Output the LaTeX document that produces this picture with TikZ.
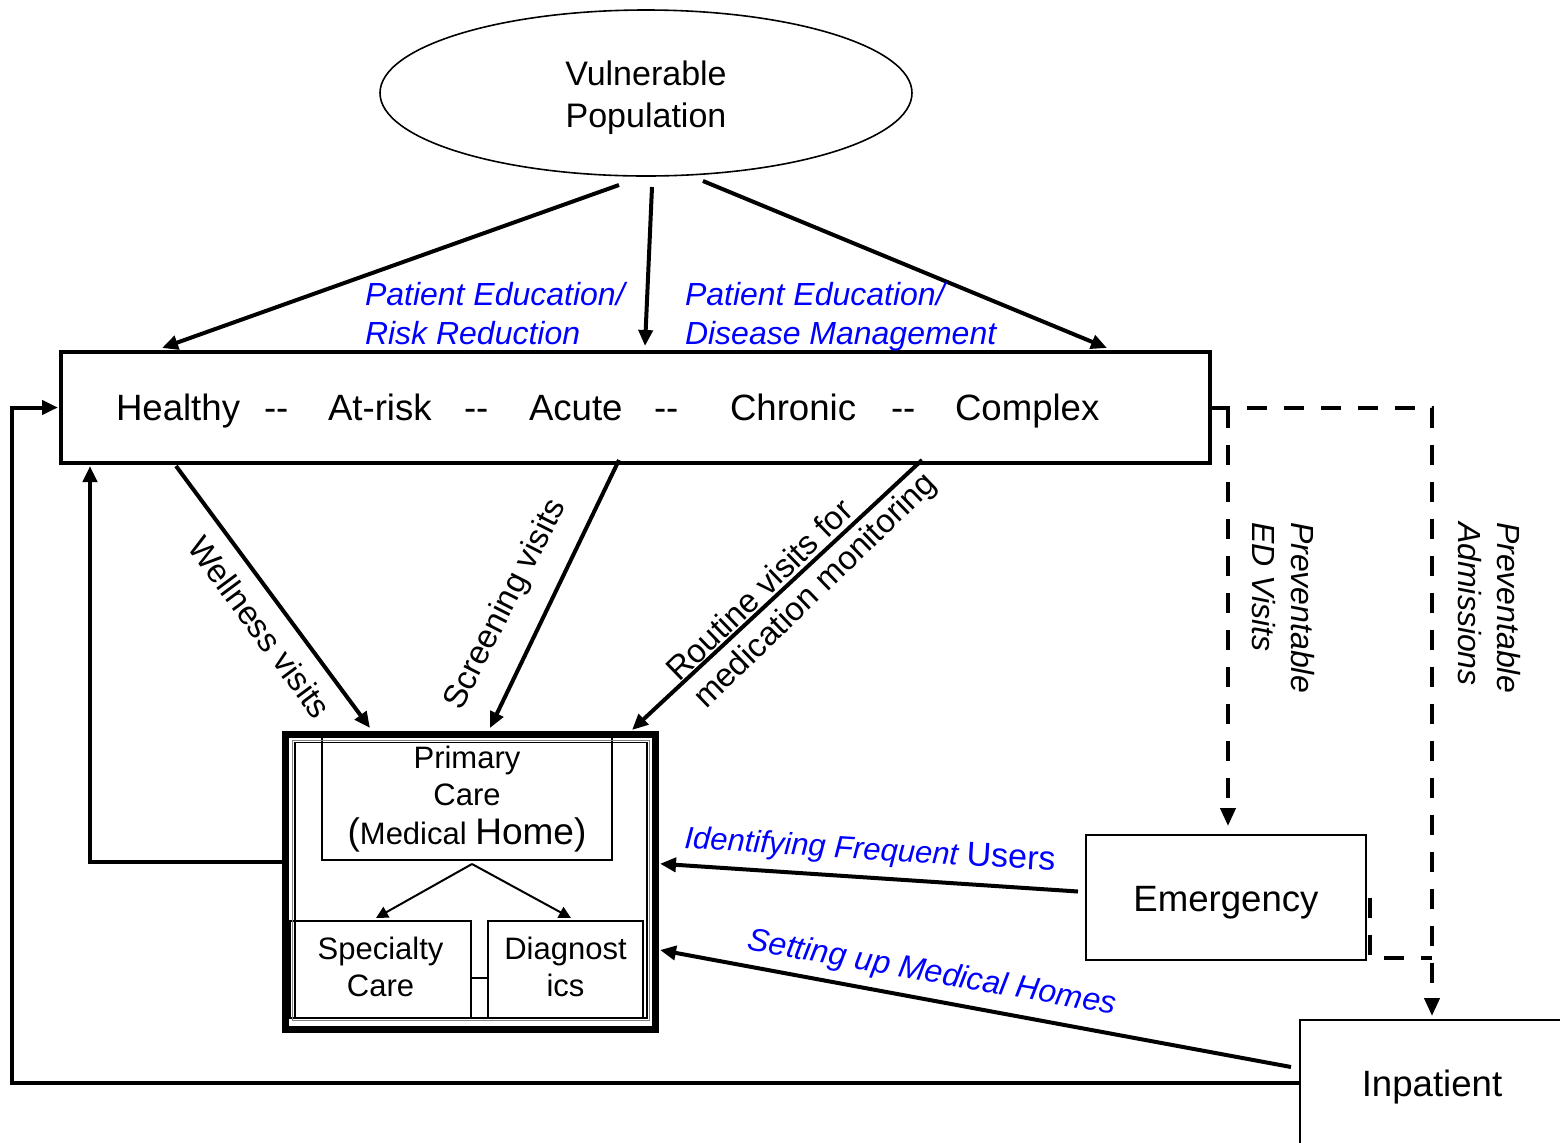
\documentclass[tikz,border=0pt]{standalone}
\usepackage{fontspec}
\setmainfont{Liberation Sans}
\usetikzlibrary{arrows.meta,calc,shapes.geometric}

\definecolor{noteblue}{RGB}{0,0,255}
\newcommand\fsz[2]{\fontsize{#1}{#2}\selectfont}

\begin{document}
\begin{tikzpicture}[x=0.5pt,y=-0.5pt,
  every node/.style={inner sep=0pt, outer sep=0pt},
  box/.style={draw, line width=0.8pt},
  flow/.style={line width=2pt, -{Triangle[length=8pt,width=7pt]}},
  thinflow/.style={line width=1pt, -{Triangle[length=6pt,width=6pt]}},
  dashline/.style={line width=2pt, dash pattern=on 10pt off 8.5pt},
  dashflow/.style={dashline, -{Triangle[length=9pt,width=7.5pt]}},
  stage/.style={font=\fsz{18.3}{22}, anchor=base west},
  note/.style={font=\fsz{16}{19.5}\itshape, text=noteblue, align=left},
  visit/.style={font=\fsz{16.5}{19}, align=center},
  sidenote/.style={font=\fsz{16}{19.5}\itshape, align=left, rotate=-90},
]
\clip (0,0) rectangle (1560,1142);
\fill[white] (0,0) rectangle (1560,1142);

% population
\node[ellipse, draw, line width=0.8pt, minimum width=266pt, minimum height=83pt] (vp) at (646,93) {};
\node[font=\fsz{17}{21}, align=center, anchor=north] (vptext) at (646,61) {Vulnerable\\Population};

% spectrum of health states
\node[draw, line width=1.7pt, minimum width=574.5pt, minimum height=55.5pt] (state) at (635.5,407.5) {};
\node[stage] (s1) at (116,420) {Healthy};
\node[stage] (d1) at (264,420) {-{}-};
\node[stage] (s2) at (328,420) {At-risk};
\node[stage] (d2) at (464,420) {-{}-};
\node[stage] (s3) at (529,420) {Acute};
\node[stage] (d3) at (654,420) {-{}-};
\node[stage] (s4) at (730,420) {Chronic};
\node[stage] (d4) at (891,420) {-{}-};
\node[stage] (s5) at (955,420) {Complex};

% population to states
\draw[flow] ($(vp.south)+(-27,9)$) -- ($(state.north)+(-473.5,-4)$);
\draw[flow] ($(vp.south)+(6,11)$) -- ($(state.north)+(9.5,-6)$);
\draw[flow] ($(vp.south)+(57,5)$) -- ($(state.north)+(471.5,-4)$);
\node[note, anchor=north west] (noteA) at (365,282) {Patient Education/\\Risk Reduction};
\node[note, anchor=north west] (noteB) at (685,282) {Patient Education/\\Disease Management};

% medical home cluster
\node[box, minimum width=145pt, minimum height=61.5pt] (pc) at (467,798.5) {};
\node[box, minimum width=90.5pt, minimum height=48.5pt] (sp) at (380.5,969.5) {};
\node[box, minimum width=77.5pt, minimum height=48.5pt] (dg) at (565.5,969.5) {};
\node[draw, line width=3.5pt, minimum width=184.75pt, minimum height=147.25pt] (mh) at (470.25,881.75) {};
\draw[line width=0.5pt, gray] ($(mh.north west)+(7,5.5)$) rectangle ($(mh.south east)+(-6,-9)$);
\draw[line width=0.6pt] ($(mh.north west)+(9.5,8)$) rectangle ($(mh.south east)+(-8,-11)$);
\node[font=\fsz{15.5}{18.5}, align=center, anchor=north] (pctext) at (467,746)
  {Primary\\Care\\[1pt]{\fsz{18.5}{22}(}Medical {\fsz{18.5}{22}Home)}};
\node[font=\fsz{15.5}{18.5}, align=center, anchor=north] (sptext) at (380.5,937) {Specialty\\Care};
\node[font=\fsz{15.5}{18.5}, align=center, anchor=north] (dgtext) at (565.5,937) {Diagnost\\ics};
\draw[thinflow] ($(pc.south)+(5,4)$) -- ($(sp.north)+(-4.5,-3)$);
\draw[thinflow] ($(pc.south)+(5,4)$) -- ($(dg.north)+(5.5,-3)$);
\draw[line width=0.8pt] ($(sp.east)+(0,8.5)$) -- ($(dg.west)+(0,8.5)$);

% visits from states to primary care
\draw[flow] ($(state.south)+(-459.5,3)$) -- ($(mh.north)+(-100.25,-6.5)$);
\draw[flow] ($(state.south)+(-16.5,-3)$) -- ($(mh.north)+(19.75,-6.5)$);
\draw[flow] ($(state.south)+(286.5,-3)$) -- ($(mh.north)+(161.75,-4.5)$);
\node[visit, rotate=-53.5] (wl) at (260,627) {Wellness visits};
\node[visit, rotate=63] (sc) at (506,605) {Screening visits};
\node[visit, align=left, rotate=44] (rt) at (803,578) {Routine visits for\\medication monitoring};

% acute care settings
\node[box, minimum width=140pt, minimum height=62.5pt] (em) at (1226,897.5) {};
\node[font=\fsz{18.3}{22}, anchor=base] (emtext) at (1226,911) {Emergency};
\node[box, minimum width=140pt, minimum height=70pt] (inp) at (1440,1090) {};
\node[font=\fsz{18.3}{22}, anchor=base] (inptext) at (1432,1096) {Inpatient};

% back to the medical home
\draw[flow] ($(em.west)+(-8,-6)$) -- ($(mh.east)+(5,-18)$);
\draw[flow] ($(inp.west)+(-9,-23)$) -- ($(mh.east)+(5,68.25)$);
\node[font=\fsz{15.5}{19}\itshape, text=noteblue, rotate=-3.5] (idf) at (870,851)
  {Identifying Frequent {\upshape\fsz{17}{20}Users}};
\node[font=\fsz{16}{19}\itshape, text=noteblue, rotate=-10] (setup) at (932,974) {Setting up Medical Homes};

% feedback loops to the states
\draw[flow] ($(mh.west)+(-3,-20)$) -| ($(state.south west)+(29,3)$);
\draw[flow] ($(inp.west)+(0,-7)$) -- ++(-1288,0) |- ($(state.west)+(-3,0)$);

% preventable use
\draw[dashflow] (state.east) -| ($(inp.north)+(-8,-4)$);
\draw[dashflow] ($(state.east)+(18,0)$) -- ($(em.north)+(2,-9)$);
\draw[dashline] ($(em.east)+(4,0)$) |- ($(em.south east)+(66,-2)$);
\node[sidenote] (ped) at (1283,607.5) {Preventable\\ED Visits};
\node[sidenote] (pad) at (1489,607.5) {Preventable\\Admissions};
\end{tikzpicture}
\end{document}
